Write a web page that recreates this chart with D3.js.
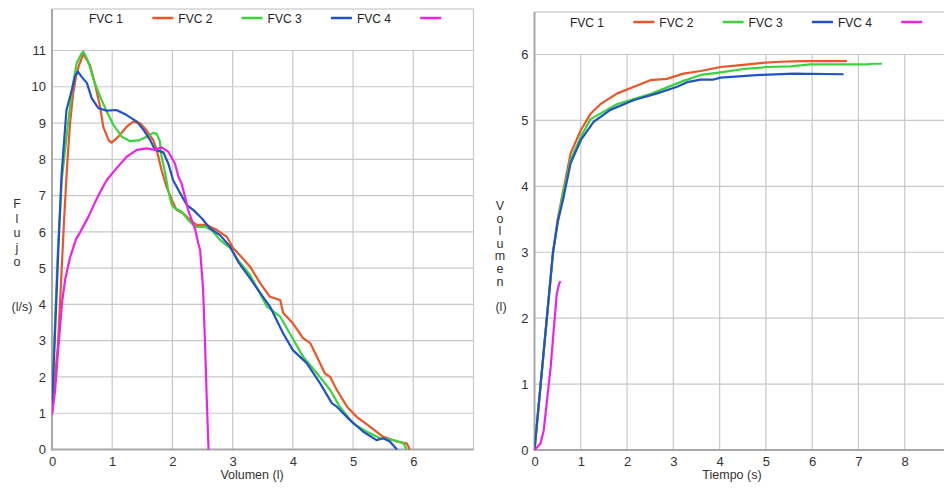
<!DOCTYPE html>
<html>
<head>
<meta charset="utf-8">
<script src="https://cdn.jsdelivr.net/npm/d3@7"></script>
<style>
  body { margin: 0; background: #fff; }
  svg { display: block; font-family: "Liberation Sans", Arial, sans-serif; }
</style>
</head>
<body>
<svg id="chart" width="944" height="489"></svg>
<script>
// legend entries (first one has no visible line)
const seriesNames = ["FVC 1", "FVC 2", "FVC 3", "FVC 4", ""];
const seriesColors = ["#ffffff", "#ec5527", "#3bd33b", "#2152c8", "#ee22e6"];

// flow-volume curves: [volume (l), flow (l/s)]
const fvc2FlowVol = [[0,1.0],[0.05,2.0],[0.1,2.9],[0.15,4.6],[0.2,6.3],[0.25,7.8],[0.3,9.0],[0.35,9.8],[0.4,10.3],[0.45,10.6],[0.52,10.9],[0.63,10.6],[0.71,10.1],[0.8,9.45],[0.85,8.9],[0.94,8.53],[0.99,8.46],[1.1,8.62],[1.24,8.9],[1.35,9.04],[1.46,9.0],[1.57,8.8],[1.68,8.53],[1.74,8.26],[1.82,7.7],[1.9,7.25],[1.99,6.88],[2.07,6.6],[2.18,6.51],[2.29,6.33],[2.4,6.19],[2.57,6.19],[2.74,6.05],[2.9,5.87],[3.01,5.55],[3.15,5.3],[3.29,5.04],[3.46,4.58],[3.62,4.21],[3.79,4.12],[3.84,3.76],[4.0,3.48],[4.17,3.07],[4.29,2.93],[4.4,2.56],[4.53,2.1],[4.62,2.0],[4.73,1.64],[4.9,1.18],[5.06,0.9],[5.28,0.63],[5.5,0.35],[5.73,0.22],[5.89,0.17],[5.92,0.08],[5.94,0]];
const fvc3FlowVol = [[0,1.2],[0.05,3.5],[0.1,5.6],[0.16,7.4],[0.24,8.6],[0.33,9.9],[0.41,10.65],[0.49,10.92],[0.52,10.97],[0.58,10.78],[0.63,10.55],[0.69,10.19],[0.8,9.73],[0.91,9.31],[1.02,8.95],[1.16,8.62],[1.3,8.5],[1.46,8.53],[1.57,8.62],[1.68,8.73],[1.74,8.7],[1.79,8.5],[1.82,8.07],[1.88,7.62],[1.93,7.15],[1.99,6.74],[2.04,6.65],[2.15,6.56],[2.29,6.28],[2.38,6.14],[2.54,6.14],[2.65,6.05],[2.79,5.78],[2.96,5.55],[3.1,5.2],[3.29,4.81],[3.57,3.94],[3.79,3.66],[3.95,3.2],[4.17,2.56],[4.4,2.1],[4.62,1.64],[4.78,1.18],[5.0,0.72],[5.23,0.49],[5.45,0.31],[5.67,0.26],[5.84,0.17],[5.89,0]];
const fvc4FlowVol = [[0,1.2],[0.05,3.2],[0.1,5.3],[0.16,7.6],[0.24,9.36],[0.33,9.91],[0.38,10.28],[0.43,10.42],[0.49,10.28],[0.58,10.1],[0.66,9.68],[0.77,9.41],[0.91,9.34],[1.07,9.36],[1.24,9.22],[1.41,9.04],[1.52,8.81],[1.63,8.53],[1.71,8.26],[1.85,8.19],[1.93,7.89],[2.01,7.43],[2.13,7.06],[2.24,6.74],[2.35,6.6],[2.49,6.37],[2.62,6.1],[2.79,5.91],[2.96,5.59],[3.1,5.15],[3.29,4.72],[3.46,4.31],[3.62,3.94],[3.84,3.2],[4.0,2.74],[4.23,2.38],[4.45,1.83],[4.65,1.27],[4.73,1.18],[4.95,0.81],[5.17,0.49],[5.39,0.26],[5.5,0.31],[5.61,0.22],[5.73,0]];
const fvc5FlowVol = [[0,0.95],[0.05,1.6],[0.1,2.7],[0.17,4.1],[0.22,4.7],[0.3,5.3],[0.4,5.8],[0.47,6.0],[0.6,6.4],[0.71,6.8],[0.8,7.1],[0.91,7.43],[1.07,7.75],[1.24,8.07],[1.41,8.26],[1.57,8.3],[1.71,8.26],[1.82,8.33],[1.93,8.21],[2.04,7.89],[2.1,7.52],[2.15,7.34],[2.21,6.97],[2.26,6.6],[2.32,6.33],[2.38,6.05],[2.43,5.68],[2.46,5.5],[2.51,4.4],[2.54,3.0],[2.57,1.4],[2.6,0]];

// volume-time curves: [time (s), volume (l)]
const fvc2VolTime = [[0,0],[0.2,1.5],[0.4,3.0],[0.5,3.5],[0.6,3.86],[0.78,4.5],[1.0,4.85],[1.21,5.1],[1.43,5.25],[1.79,5.41],[2.15,5.51],[2.5,5.61],[2.86,5.63],[3.22,5.71],[3.59,5.75],[4.02,5.81],[4.45,5.84],[4.88,5.87],[5.31,5.89],[5.75,5.9],[6.75,5.9]];
const fvc3VolTime = [[0,0],[0.2,1.5],[0.4,3.0],[0.5,3.45],[0.6,3.84],[0.78,4.4],[1.0,4.75],[1.21,5.02],[1.79,5.25],[2.5,5.4],[3.22,5.6],[3.59,5.69],[4.02,5.73],[4.52,5.78],[5.03,5.81],[5.53,5.82],[5.96,5.85],[7.18,5.85],[7.33,5.86],[7.51,5.86]];
const fvc4VolTime = [[0,0],[0.2,1.5],[0.4,3.0],[0.5,3.45],[0.63,3.84],[0.78,4.35],[1.0,4.7],[1.28,4.98],[1.64,5.16],[2.15,5.31],[2.65,5.41],[3.08,5.51],[3.3,5.58],[3.59,5.62],[3.87,5.62],[4.02,5.65],[4.88,5.69],[5.6,5.71],[6.68,5.7]];
const fvc5VolTime = [[0,0],[0.13,0.1],[0.2,0.3],[0.27,0.75],[0.35,1.26],[0.42,1.86],[0.48,2.36],[0.53,2.52],[0.56,2.56]];

// tick values
const flowTicks = d3.range(0, 12);
const volTicksX = d3.range(0, 7);
const volTicksY = d3.range(0, 7);
const timeTicks = d3.range(0, 9);

const svg = d3.select("#chart");

function drawPanel(cfg) {
	const g = svg.append("g");
	const x = d3.scaleLinear().domain(cfg.xDomain).range([cfg.left, cfg.right]);
	const y = d3.scaleLinear().domain(cfg.yDomain).range([cfg.bottom, cfg.yTopVal]);

	// frame
	g.append("rect")
		.attr("x", cfg.left).attr("y", cfg.top)
		.attr("width", cfg.right - cfg.left).attr("height", cfg.bottom - cfg.top)
		.attr("fill", "#fff").attr("stroke", "#c8c8c8").attr("stroke-width", 1.2);

	// grid
	g.append("g").selectAll("line").data(cfg.xTicks.filter(d => d > 0)).join("line")
		.attr("x1", d => x(d)).attr("x2", d => x(d))
		.attr("y1", y(cfg.yDomain[1])).attr("y2", cfg.bottom)
		.attr("stroke", "#c8c8c8").attr("stroke-width", 1.2);
	g.append("g").selectAll("line").data(cfg.yTicks.filter(d => d > 0)).join("line")
		.attr("x1", cfg.left).attr("x2", cfg.right)
		.attr("y1", d => y(d)).attr("y2", d => y(d))
		.attr("stroke", "#c8c8c8").attr("stroke-width", 1.2);

	// axes
	const xAxis = d3.axisBottom(x).tickValues(cfg.xTicks).tickFormat(d3.format("d")).tickSize(0).tickPadding(7);
	const yAxis = d3.axisLeft(y).tickValues(cfg.yTicks).tickFormat(d3.format("d")).tickSize(0).tickPadding(6);
	const xg = g.append("g").attr("transform", `translate(0,${cfg.bottom})`).call(xAxis);
	const yg = g.append("g").attr("transform", `translate(${cfg.left},0)`).call(yAxis);
	[xg, yg].forEach(a => {
		a.select(".domain").remove();
		a.selectAll("text").attr("fill", "#333").style("font-size", "13px").style("font-family", "Liberation Sans, Arial, sans-serif");
	});
	g.append("line").attr("x1", cfg.left).attr("x2", cfg.left).attr("y1", cfg.top).attr("y2", cfg.bottom + 1)
		.attr("stroke", "#a8a8a8").attr("stroke-width", 2);
	g.append("line").attr("x1", cfg.left).attr("x2", cfg.right).attr("y1", cfg.bottom).attr("y2", cfg.bottom)
		.attr("stroke", "#a8a8a8").attr("stroke-width", 2);

	// titles
	g.append("text").attr("x", cfg.xTitleX).attr("y", 479).attr("text-anchor", "middle")
		.attr("fill", "#333").style("font-size", "12.5px").text(cfg.xTitle);
	cfg.yLetters.forEach((c, i) => {
		g.append("text").attr("x", cfg.yTitleX).attr("y", cfg.yLetterTop + i * cfg.yLetterStep)
			.attr("text-anchor", "middle").attr("fill", "#333").style("font-size", "12.5px").text(c);
	});
	g.append("text").attr("x", cfg.yUnitX).attr("y", 311).attr("text-anchor", "middle")
		.attr("fill", "#333").style("font-size", "12.5px").text(cfg.yUnit);

	// legend
	const leg = g.append("g");
	seriesNames.forEach((name, i) => {
		const lx = cfg.legendX + i * 89.3;
		leg.append("line").attr("x1", lx).attr("x2", lx + 21).attr("y1", cfg.legendY).attr("y2", cfg.legendY)
			.attr("stroke", seriesColors[i]).attr("stroke-width", 2.5);
		leg.append("text").attr("x", lx + 26).attr("y", cfg.legendY + 4.5)
			.attr("fill", "#222").style("font-size", "12px").text(name);
	});

	// lines
	const line = d3.line().x(d => x(d[0])).y(d => y(d[1]));
	const clipId = "clip" + cfg.id;
	g.append("clipPath").attr("id", clipId).append("rect")
		.attr("x", cfg.left).attr("y", cfg.top).attr("width", cfg.right - cfg.left).attr("height", cfg.bottom - cfg.top + 2);
	cfg.series.forEach((s, i) => {
		g.append("path").datum(s).attr("d", line)
			.attr("fill", "none").attr("stroke", seriesColors[i + 1])
			.attr("stroke-width", 2.2).attr("stroke-linejoin", "round")
			.attr("clip-path", `url(#${clipId})`);
	});
}

drawPanel({
	id: "a", left: 52, right: 473.5, top: 9, bottom: 449.5,
	xDomain: [0, 7], yDomain: [0, 11], yTopVal: 50.5,
	xTicks: volTicksX, yTicks: flowTicks,
	xTitle: "Volumen (l)", xTitleX: 252,
	yLetters: ["F", "l", "u", "j", "o"], yTitleX: 17, yLetterTop: 208, yLetterStep: 14.5,
	yUnit: "(l/s)", yUnitX: 22,
	legendX: 63, legendY: 18,
	series: [fvc2FlowVol, fvc3FlowVol, fvc4FlowVol, fvc5FlowVol]
});

drawPanel({
	id: "b", left: 534.5, right: 951, top: 12, bottom: 450,
	xDomain: [0, 9], yDomain: [0, 6], yTopVal: 54.5,
	xTicks: timeTicks, yTicks: volTicksY,
	xTitle: "Tiempo (s)", xTitleX: 732,
	yLetters: ["V", "o", "l", "u", "m", "e", "n"], yTitleX: 500, yLetterTop: 210, yLetterStep: 12.6,
	yUnit: "(l)", yUnitX: 501,
	legendX: 544, legendY: 22,
	series: [fvc2VolTime, fvc3VolTime, fvc4VolTime, fvc5VolTime]
});
</script>
</body>
</html>
